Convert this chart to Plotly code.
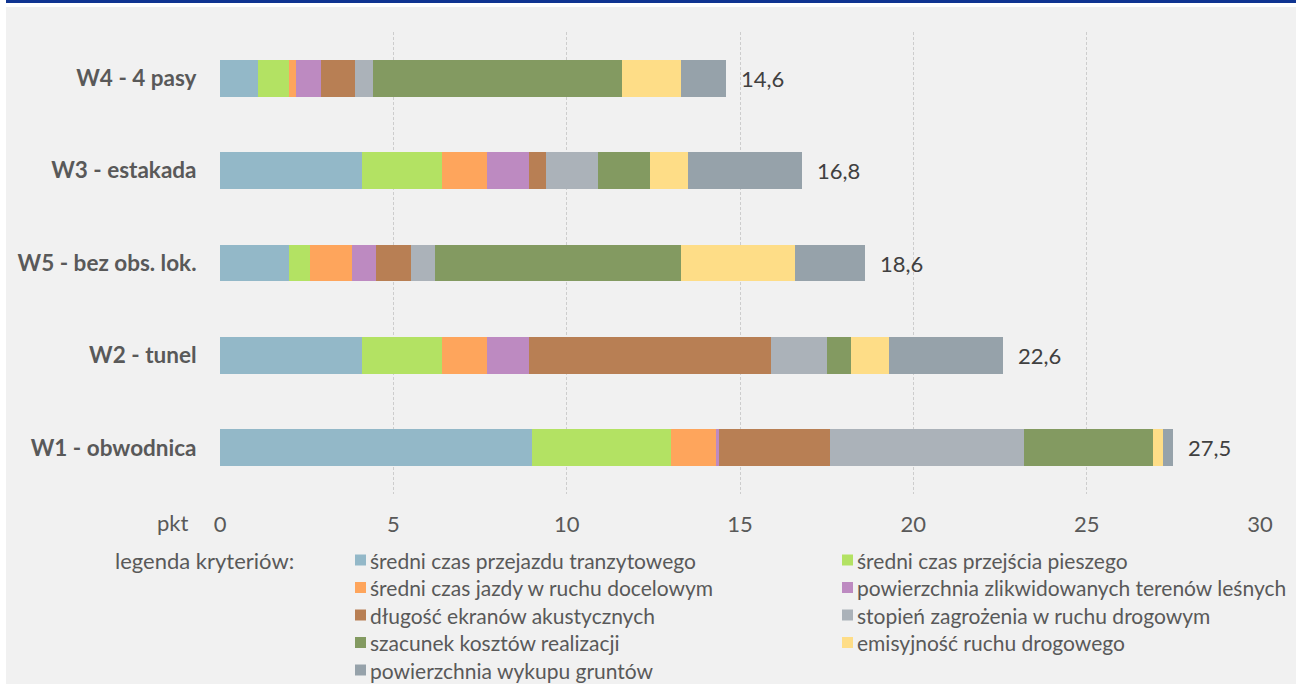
import plotly.graph_objects as go

# Variants, listed bottom-up as they appear on the chart
variants = ["W1 - obwodnica", "W2 - tunel", "W5 - bez obs. lok.", "W3 - estakada", "W4 - 4 pasy"]

# Criteria (legend order) and their colours
criteria = [
    "średni czas przejazdu tranzytowego",
    "średni czas przejścia pieszego",
    "średni czas jazdy w ruchu docelowym",
    "powierzchnia zlikwidowanych terenów leśnych",
    "długość ekranów akustycznych",
    "stopień zagrożenia w ruchu drogowym",
    "szacunek kosztów realizacji",
    "emisyjność ruchu drogowego",
    "powierzchnia wykupu gruntów",
]
colors = ["#93b8c8", "#b3e263", "#fea55c", "#bd8ac1", "#b87f54",
          "#abb2b9", "#839a61", "#fedd87", "#96a2aa"]

# Points per criterion, per variant (W1, W2, W5, W3, W4)
tranzyt = [9.0, 4.1, 2.0, 4.1, 1.1]
pieszy = [4.0, 2.3, 0.6, 2.3, 0.9]
docelowy = [1.3, 1.3, 1.2, 1.3, 0.2]
lesne = [0.1, 1.2, 0.7, 1.2, 0.7]
ekrany = [3.2, 7.0, 1.0, 0.5, 1.0]
zagrozenie = [5.6, 1.6, 0.7, 1.5, 0.5]
koszty = [3.7, 0.7, 7.1, 1.5, 7.2]
emisyjnosc = [0.3, 1.1, 3.3, 1.1, 1.7]
wykup = [0.3, 3.3, 2.0, 3.3, 1.3]
series = [tranzyt, pieszy, docelowy, lesne, ekrany, zagrozenie, koszty, emisyjnosc, wykup]

x_ticks = [0, 5, 10, 15, 20, 25, 30]

W, H = 1296, 684
ML, MR, MT, MB = 220, 36, 32, 190
PW, PH = W - ML - MR, H - MT - MB

FONT = "Lato"
TXT = "#595959"
FS = 22      # axis ticks and value labels
FS_LEG = 21  # legend entries


def px_x(px):
    return (px - ML) / PW


def px_y(py):
    return (H - MB - py) / PH


fig = go.Figure()
for name, vals, col in zip(criteria, series, colors):
    fig.add_trace(go.Bar(
        y=variants, x=vals, name=name, orientation="h",
        marker=dict(color=col, line=dict(width=0)),
        showlegend=False, hoverinfo="x+name",
    ))

totals = [round(sum(v[i] for v in series), 1) for i in range(len(variants))]

annotations = []
for cat, tot in zip(variants, totals):
    annotations.append(dict(
        x=tot, y=cat, xref="x", yref="y", text=f"{tot:.1f}".replace(".", ","),
        showarrow=False, xanchor="left", xshift=13,
        font=dict(family=FONT, size=FS, color="#404040"),
    ))

# axis caption next to the zero tick
annotations.append(dict(
    x=px_x(191), y=px_y(522), xref="paper", yref="paper", text="pkt",
    showarrow=False, xanchor="right", yanchor="middle",
    font=dict(family=FONT, size=FS, color=TXT),
))

# criteria legend laid out in two columns
annotations.append(dict(
    x=px_x(113), y=px_y(560), xref="paper", yref="paper", text="legenda kryteriów:",
    showarrow=False, xanchor="left", yanchor="middle",
    font=dict(family=FONT, size=FS, color=TXT),
))

shapes = [
    # grey panel and blue band
    dict(type="rect", xref="paper", yref="paper", x0=px_x(6), x1=px_x(W), y0=px_y(H), y1=px_y(7),
         fillcolor="#f1f1f1", line=dict(width=0), layer="below"),
    dict(type="rect", xref="paper", yref="paper", x0=px_x(6), x1=px_x(W), y0=px_y(3), y1=px_y(0),
         fillcolor="#0f3491", line=dict(width=0), layer="below"),
]

col_x = [355, 842]
row_y = [560, 587.5, 615, 642.5, 670]
for i, (name, col) in enumerate(zip(criteria, colors)):
    cx = col_x[i % 2]
    cy = row_y[i // 2]
    shapes.append(dict(type="rect", xref="paper", yref="paper",
                       x0=px_x(cx), x1=px_x(cx + 11), y0=px_y(cy + 5.5), y1=px_y(cy - 5.5),
                       fillcolor=col, line=dict(width=0)))
    annotations.append(dict(
        x=px_x(cx + 13), y=px_y(cy), xref="paper", yref="paper", text=name,
        showarrow=False, xanchor="left", yanchor="middle",
        font=dict(family=FONT, size=FS_LEG, color=TXT),
    ))

fig.update_layout(
    width=W, height=H,
    margin=dict(l=ML, r=MR, t=MT, b=MB, pad=0),
    barmode="stack", bargap=0.6,
    paper_bgcolor="white", plot_bgcolor="rgba(0,0,0,0)",
    font=dict(family=FONT, color=TXT),
    xaxis=dict(range=[0, 30], tickvals=x_ticks, ticktext=[str(v) for v in x_ticks],
               showgrid=True, gridcolor="#cdcdcd", griddash="3px,2px", gridwidth=1,
               zeroline=False, showline=False,
               ticks="outside", ticklen=11, tickcolor="rgba(0,0,0,0)",
               tickfont=dict(family=FONT, size=FS, color=TXT), fixedrange=True),
    yaxis=dict(categoryorder="array", categoryarray=variants, range=[-0.5, 4.5],
               showgrid=False, zeroline=False, showline=False,
               ticks="outside", ticklen=18, tickcolor="rgba(0,0,0,0)",
               tickfont=dict(family=FONT, size=22.5, color=TXT, weight="bold"),
               fixedrange=True),
    shapes=shapes, annotations=annotations,
)

fig.write_html("out.html")
